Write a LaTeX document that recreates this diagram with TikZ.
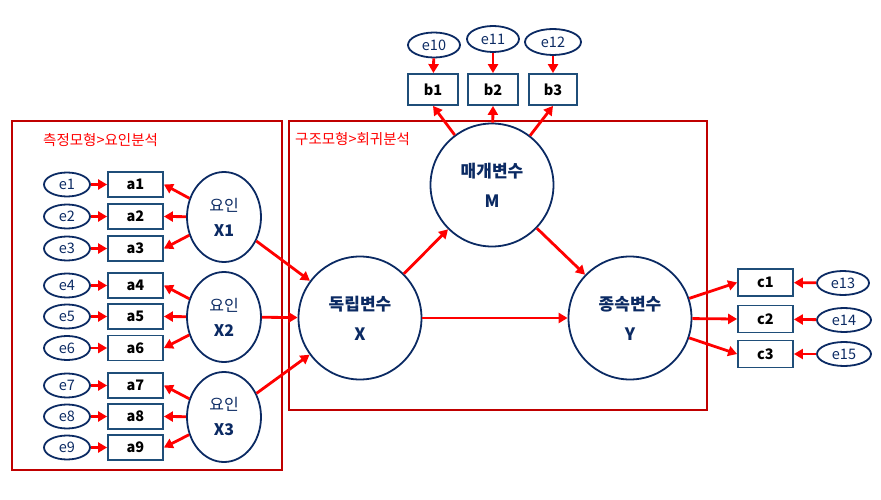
\documentclass[tikz,border=0pt]{standalone}
\usepackage{fontspec}
\setmainfont{Noto Sans CJK KR}
\usetikzlibrary{arrows.meta,shapes.geometric}
\definecolor{navy}{HTML}{0B2A63}
\definecolor{boxblue}{HTML}{1F4E79}
\definecolor{framered}{HTML}{C00000}
\tikzset{
 err/.style={ellipse,draw=navy,line width=1.8pt,minimum width=46pt,minimum height=24pt,inner sep=0pt,text=navy,font=\fontsize{14.5}{15}\selectfont},
 obs/.style={rectangle,draw=boxblue,line width=1.8pt,minimum width=55pt,minimum height=25pt,inner sep=0pt,font=\bfseries\fontsize{14.5}{15}\selectfont},
 lat/.style={ellipse,draw=navy,line width=1.8pt,minimum width=74pt,minimum height=90pt,inner sep=0pt,text=navy,align=center,font=\fontsize{16}{25}\selectfont},
 big/.style={circle,draw=navy,line width=1.8pt,minimum size=123pt,inner sep=0pt,text=navy,align=center,font=\bfseries\fontsize{17}{30}\selectfont},
 arr/.style={draw=red,line width=2.8pt,-{Triangle[length=9pt,width=10pt]}},
 frm/.style={draw=framered,line width=2pt},
 ttl/.style={text=red,font=\fontsize{14.5}{15}\selectfont,anchor=west,inner sep=0pt},
}
\begin{document}
\begin{tikzpicture}[x=1pt,y=-1pt]
\useasboundingbox (0,0) rectangle (881,500);
% frames
\draw[frm] (12,121) rectangle (282,470);
\draw[frm] (289,121) rectangle (707,410);
\node[ttl] (t1) at (43,140) {측정모형>요인분석};
\node[ttl] (t2) at (295,139) {구조모형>회귀분석};
% left measurement model
\foreach \i/\y in {1/184.5,2/216.5,3/248.5,4/285.5,5/316.5,6/348,7/385.5,8/416.5,9/447.5}{
  \node[obs] (a\i) at (135.5,\y) {a\i};
  \node[err] (e\i) at (67,\y) {e\i};
  \draw[arr] (e\i) -- (a\i);
}
\node[lat] (X1) at (224,217) {요인\\\textbf{X1}};
\node[lat] (X2) at (224,317) {요인\\\textbf{X2}};
\node[lat] (X3) at (224,417) {요인\\\textbf{X3}};
\foreach \i in {1,2,3}{\draw[arr] (X1) -- (a\i.east);}
\foreach \i in {4,5,6}{\draw[arr] (X2) -- (a\i.east);}
\foreach \i in {7,8,9}{\draw[arr] (X3) -- (a\i.east);}
% structural model
\node[big] (X) at (360,318) {독립변수\\X};
\node[big] (M) at (492,185) {매개변수\\M};
\node[big] (Y) at (630,318) {종속변수\\Y};
\draw[arr] (X1) -- (X);
\draw[arr] (X2) -- (X);
\draw[arr] (X3) -- (X);
\draw[arr] (X) -- (M);
\draw[arr] (M) -- (Y);
\draw[arr] (X) -- (Y);
% top indicators
\node[obs,minimum width=50pt,minimum height=31pt] (b1) at (433,89.5) {b1};
\node[obs,minimum width=50pt,minimum height=31pt] (b2) at (493,89.5) {b2};
\node[obs,minimum width=48pt,minimum height=31pt] (b3) at (553,89.5) {b3};
\node[err,minimum width=52pt,minimum height=25pt] (e10) at (434,45) {e10};
\node[err,minimum width=52pt,minimum height=26pt] (e11) at (493,39) {e11};
\node[err,minimum width=56pt,minimum height=26pt] (e12) at (553,42) {e12};
\draw[arr] (e10) -- (b1);
\draw[arr] (e11) -- (b2);
\draw[arr] (e12) -- (b3);
\draw[arr] (M) -- (b1.south);
\draw[arr] (M) -- (b2.south);
\draw[arr] (M) -- (b3.south);
% right indicators
\node[obs,minimum height=27pt] (c1) at (765.5,282.5) {c1};
\node[obs,minimum height=27pt] (c2) at (765.5,319) {c2};
\node[obs,minimum height=27pt] (c3) at (765.5,354) {c3};
\node[err,minimum width=52pt] (e13) at (843,283) {e13};
\node[err,minimum width=54pt] (e14) at (844,320) {e14};
\node[err,minimum width=54pt] (e15) at (844,354) {e15};
\draw[arr] (e13) -- (c1);
\draw[arr] (e14) -- (c2);
\draw[arr] (e15) -- (c3);
\draw[arr] (Y) -- (c1.west);
\draw[arr] (Y) -- (c2.west);
\draw[arr] (Y) -- (c3.west);
\end{tikzpicture}
\end{document}
